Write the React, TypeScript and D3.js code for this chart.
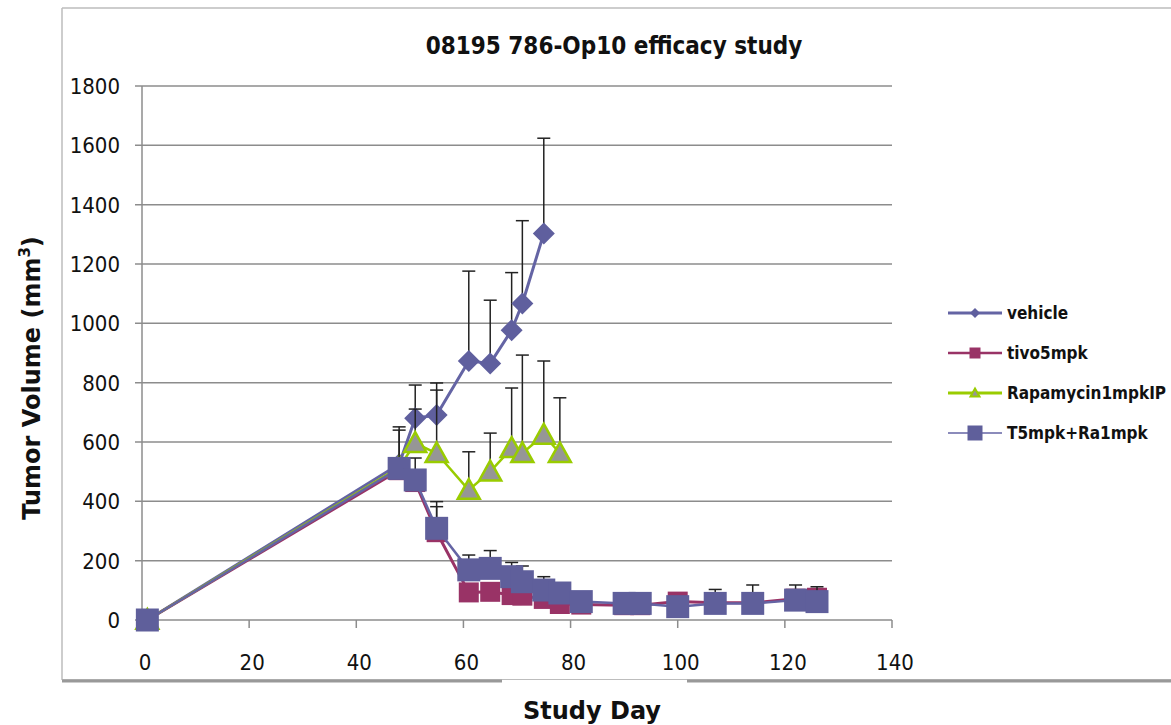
import React from "react";
import * as d3 from "d3";

// Study days for each treatment group
const vehicleDays = [1, 48, 51, 55, 61, 65, 69, 71, 75];
const vehicleMean = [0, 525, 680, 691, 873, 865, 977, 1067, 1303];
const vehicleErr = [0, 0, 112, 108, 303, 213, 194, 279, 321];

const tivoDays = [1, 48, 51, 55, 61, 65, 69, 71, 75, 78, 82, 90, 93, 100, 107, 114, 122, 126];
const tivoMean = [0, 505, 465, 296, 93, 95, 84, 82, 71, 54, 52, 50, 50, 62, 58, 58, 72, 75];
const tivoErr = [0, 0, 0, 86, 0, 0, 0, 0, 0, 0, 0, 0, 0, 0, 0, 0, 0, 0];

const rapaDays = [1, 48, 51, 55, 61, 65, 69, 71, 75, 78];
const rapaMean = [0, 515, 596, 562, 438, 500, 579, 562, 624, 562];
const rapaErr = [0, 136, 115, 213, 129, 130, 203, 331, 249, 187];

const comboDays = [1, 48, 51, 55, 61, 65, 69, 71, 75, 78, 82, 90, 93, 100, 107, 114, 122, 126];
const comboMean = [0, 511, 472, 309, 169, 174, 146, 129, 101, 91, 62, 56, 56, 45, 56, 56, 67, 62];
const comboErr = [0, 129, 74, 90, 50, 60, 48, 53, 45, 0, 0, 0, 0, 0, 47, 62, 51, 50];

const seriesNames = ["vehicle", "tivo5mpk", "Rapamycin1mpkIP", "T5mpk+Ra1mpk"];
const xTicks = [0, 20, 40, 60, 80, 100, 120, 140];
const yTicks = [0, 200, 400, 600, 800, 1000, 1200, 1400, 1600, 1800];

const W = 1171;
const H = 725;
const plot = { left: 142, right: 892, top: 86, bottom: 620 };

const narrow = "'Liberation Sans Narrow', 'DejaVu Sans Condensed', 'Liberation Sans', sans-serif";
const wide = "'DejaVu Sans', Verdana, sans-serif";

type Marker = "diamond" | "square" | "triangle" | "bigsquare";

interface Series {
  name: string;
  days: number[];
  mean: number[];
  err: number[];
  stroke: string;
  width: number;
  marker: Marker;
  fill: string;
  mstroke: string;
  size: number;
  legendSize: number;
  legendWidth: number;
}

const series: Series[] = [
  { name: seriesNames[0], days: vehicleDays, mean: vehicleMean, err: vehicleErr, stroke: "#6464A4", width: 3, marker: "diamond", fill: "#5F5F9E", mstroke: "#5F5F9E", size: 11, legendSize: 5, legendWidth: 3 },
  { name: seriesNames[1], days: tivoDays, mean: tivoMean, err: tivoErr, stroke: "#993366", width: 3, marker: "square", fill: "#993366", mstroke: "#993366", size: 10, legendSize: 5.5, legendWidth: 2.5 },
  { name: seriesNames[2], days: rapaDays, mean: rapaMean, err: rapaErr, stroke: "#99CC00", width: 2.5, marker: "triangle", fill: "#969696", mstroke: "#99CC00", size: 11, legendSize: 4.5, legendWidth: 3 },
  { name: seriesNames[3], days: comboDays, mean: comboMean, err: comboErr, stroke: "#6464A4", width: 2.5, marker: "bigsquare", fill: "#5F5F9B", mstroke: "#5F5F9B", size: 11.5, legendSize: 7.5, legendWidth: 1.5 },
];

function markerPath(m: Marker, r: number): string {
  if (m === "diamond") return `M0,${-r}L${r},0L0,${r}L${-r},0Z`;
  if (m === "triangle") return `M0,${-r}L${r},${r * 0.8}L${-r},${r * 0.8}Z`;
  return `M${-r},${-r}H${r}V${r}H${-r}Z`;
}

export default function App() {
  const x = d3.scaleLinear().domain([0, 140]).range([plot.left, plot.right]);
  const y = d3.scaleLinear().domain([0, 1800]).range([plot.bottom, plot.top]);
  const line = d3
    .line<[number, number]>()
    .x((d) => x(d[0]))
    .y((d) => y(d[1]));

  const legendX = 948;
  const legendY = [313, 353, 393, 433];

  return (
    <svg width={W} height={H} style={{ position: "absolute", left: 0, top: 0, background: "#fff" }}>
      {/* chart frame */}
      <line x1={62} y1={8} x2={W} y2={8} stroke="#BDBDBD" strokeWidth={1.5} />
      <line x1={62} y1={8} x2={62} y2={680} stroke="#BDBDBD" strokeWidth={1.5} />
      <line x1={62} y1={679.5} x2={W} y2={679.5} stroke="#BDBDBD" strokeWidth={1} />
      <line x1={62} y1={681} x2={502} y2={681} stroke="#999" strokeWidth={3} />
      <line x1={687} y1={681} x2={W} y2={681} stroke="#999" strokeWidth={3} />

      <text x={614} y={54} textAnchor="middle" fontFamily={narrow} fontWeight="bold" fontSize={24} fill="#111">
        08195 786-Op10 efficacy study
      </text>

      {/* gridlines and y ticks */}
      {yTicks.map((t) => (
        <g key={t}>
          <line x1={135} x2={plot.right} y1={y(t)} y2={y(t)} stroke="#8C8C8C" strokeWidth={1.5} />
          <text x={120} y={y(t) + 8} textAnchor="end" fontFamily={narrow} fontSize={22} fill="#111">
            {t}
          </text>
        </g>
      ))}
      <line x1={plot.left} x2={plot.left} y1={plot.top} y2={plot.bottom} stroke="#8C8C8C" strokeWidth={1.5} />
      {xTicks.map((t) => (
        <g key={t}>
          {t > 0 && <line x1={x(t)} x2={x(t)} y1={plot.bottom} y2={plot.bottom + 8} stroke="#8C8C8C" strokeWidth={1.5} />}
          <text x={x(t) + 3} y={670} textAnchor="middle" fontFamily={narrow} fontSize={22} fill="#111">
            {t}
          </text>
        </g>
      ))}

      {/* series */}
      {series.map((s) => {
        const pts: [number, number][] = s.days.map((d, i) => [d, s.mean[i]]);
        return (
          <g key={s.name}>
            {s.days.map((d, i) =>
              s.err[i] > 0 ? (
                <g key={i} stroke="#222" strokeWidth={1.5}>
                  <line x1={x(d)} x2={x(d)} y1={y(s.mean[i])} y2={y(s.mean[i] + s.err[i])} />
                  <line x1={x(d) - 6.5} x2={x(d) + 6.5} y1={y(s.mean[i] + s.err[i])} y2={y(s.mean[i] + s.err[i])} />
                </g>
              ) : null
            )}
            <path d={line(pts) || ""} fill="none" stroke={s.stroke} strokeWidth={s.width} strokeLinejoin="round" />
            {pts.map((p, i) => (
              <path
                key={i}
                d={markerPath(s.marker, s.size)}
                transform={`translate(${x(p[0])},${y(p[1])})`}
                fill={s.fill}
                stroke={s.mstroke}
                strokeWidth={s.marker === "triangle" ? 2.5 : 0}
              />
            ))}
          </g>
        );
      })}

      {/* legend */}
      {series.map((s, i) => (
        <g key={s.name} transform={`translate(${legendX},${legendY[i]})`}>
          <line x1={0} x2={54} y1={0} y2={0} stroke={s.stroke} strokeWidth={s.legendWidth} />
          <path
            d={markerPath(s.marker, s.legendSize)}
            transform="translate(27,0)"
            fill={s.fill}
            stroke={s.mstroke}
            strokeWidth={s.marker === "triangle" ? 2 : 0}
          />
          <text x={59} y={6} fontFamily={narrow} fontWeight="bold" fontSize={17} fill="#111">
            {s.name}
          </text>
        </g>
      ))}

      {/* axis titles */}
      <text x={592} y={719} textAnchor="middle" fontFamily={wide} fontWeight="bold" fontSize={24} fill="#111">
        Study Day
      </text>
      <text
        transform="translate(40,378) rotate(-90)"
        textAnchor="middle"
        fontFamily={wide}
        fontWeight="bold"
        fontSize={24}
        fill="#111"
      >
        Tumor Volume (mm
        <tspan fontSize={15} dy={-10}>
          3
        </tspan>
        <tspan dy={10}>)</tspan>
      </text>
    </svg>
  );
}
